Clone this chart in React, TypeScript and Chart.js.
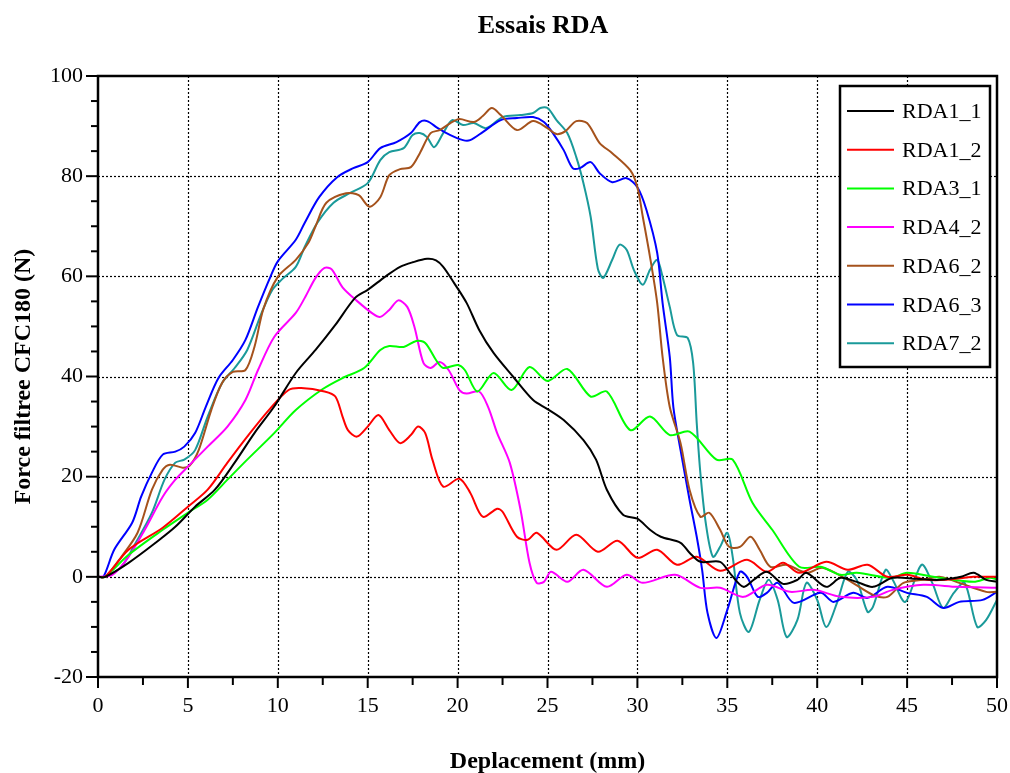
import React, { useEffect, useRef } from "react";
import { Chart, registerables } from "chart.js";

Chart.register(...registerables);

// ---------- DATA ----------
const seriesLabels = ["RDA1_1", "RDA1_2", "RDA3_1", "RDA4_2", "RDA6_2", "RDA6_3", "RDA7_2"];
const seriesColors = ["#000000", "#ff0000", "#00ff00", "#ff00ff", "#a5521c", "#0000ff", "#1a9a9a"];

const xTickValues = [0, 5, 10, 15, 20, 25, 30, 35, 40, 45, 50];
const yTickValues = [-20, 0, 20, 40, 60, 80, 100];

const rda11X = [0, 0.4, 1.7, 3.2, 4.3, 5.4, 6.5, 7.6, 8.7, 9.8, 11, 12.1, 13.2, 14.3, 15, 16, 16.8, 17.5, 18.3, 18.8, 19.2, 19.8, 20.5, 21.2, 22, 23.1, 24.2, 25, 25.9, 27, 27.7, 28.3, 29.2, 30, 30.7, 31.3, 32.4, 32.9, 33.5, 34.6, 35.2, 35.9, 36.5, 37.2, 38.1, 38.9, 39.4, 40.5, 41.3, 42.2, 43.1, 44.2, 45.5, 46.8, 48, 48.7, 49.4, 50];
const rda11Y = [0, 0, 2.8, 6.8, 10, 14, 17.4, 22.8, 28.7, 34, 40.7, 45.3, 50.3, 55.7, 57.3, 60, 61.9, 62.8, 63.5, 63.2, 61.9, 58.7, 54.7, 49.3, 44.7, 39.9, 35.3, 33.5, 31.3, 27.3, 23.4, 17.4, 12.4, 11.6, 9.4, 8, 6.8, 4.8, 3, 3, 0.5, -2, -0.5, 1, -1.4, -0.6, 0.8, -2, -0.2, -1, -2, -0.2, -0.4, -0.6, 0, 0.8, -0.6, -1];

const rda12X = [0, 0.4, 1.7, 3.6, 5, 6.1, 7.2, 8.3, 9.5, 10.6, 11.3, 12.6, 13.2, 13.6, 13.9, 14.4, 15, 15.6, 16.2, 16.8, 17.4, 17.8, 18.2, 18.6, 19.2, 20.1, 20.7, 21.4, 22.2, 22.5, 23.3, 23.9, 24.4, 25.5, 26.6, 27.8, 28.9, 30, 31.1, 32.2, 33.3, 34.6, 36.1, 37.2, 38.1, 39, 40.5, 41.7, 42.8, 43.9, 45, 46.1, 47.2, 48.7, 50];
const rda12Y = [0, 0, 5.4, 9.8, 14, 17.4, 22.8, 28, 33.3, 37.3, 37.7, 37, 36, 32, 29.3, 28, 30, 32.3, 29.3, 26.7, 28.3, 30, 28.7, 23.4, 18, 19.6, 16.8, 12, 13.6, 13, 8, 7.4, 8.8, 5.4, 8.4, 5, 7.2, 3.8, 5.4, 2.4, 4, 1.2, 3.4, 1, 2.8, 0.8, 3, 1.4, 2.4, 0, 0.4, -0.6, -0.6, 0, 0];

const rda31X = [0, 0.4, 1.7, 3.6, 5, 6.1, 7.2, 8.3, 9.8, 11, 12.5, 13.6, 14.8, 15.7, 16.2, 17, 17.7, 18.2, 18.8, 19.2, 20, 20.4, 21.1, 22, 23, 24, 25, 26.1, 27.4, 28.3, 29.6, 30.7, 31.8, 32.9, 34.4, 35.3, 36.4, 37.5, 39, 40.2, 41.3, 42.2, 44.1, 45, 46.8, 48.7, 49.6, 50];
const rda31Y = [0, 0, 4.4, 9.4, 12.8, 15.4, 19.4, 23.4, 28.7, 33.3, 37.5, 39.7, 41.7, 45.3, 46.1, 45.9, 47.1, 46.7, 43.3, 41.7, 42.3, 41.3, 37, 40.7, 37.3, 41.9, 39.1, 41.5, 36, 37, 29.3, 32, 28.3, 29, 23.4, 23.4, 14.8, 9.4, 2, 2, 0.4, 0.8, -0.2, 0.8, -0.2, -1, -0.2, -0.5];

const rda42X = [0, 0.8, 1.7, 2.6, 3.6, 4.3, 5, 6.1, 7.2, 8.2, 8.9, 9.8, 11, 11.5, 12.1, 12.6, 13, 13.6, 14.4, 15.3, 15.7, 16.2, 16.7, 17.2, 17.6, 18.1, 18.5, 19, 19.5, 20.1, 20.5, 21.2, 21.7, 22.2, 22.9, 23.5, 24, 24.4, 24.8, 25.2, 26.1, 27, 28.3, 29.4, 30.3, 32.1, 33.5, 34.6, 35.9, 37.2, 38.5, 39.8, 41.3, 43.1, 44.2, 45.9, 47.8, 50];
const rda42Y = [0, 0.4, 4, 9.4, 16, 19.4, 22, 26, 30, 35.3, 41.3, 47.9, 52.7, 55.7, 59.7, 61.7, 61.4, 57.8, 55.1, 52.5, 51.9, 53.3, 55.2, 53.9, 49.9, 42.7, 41.7, 42.9, 41.3, 37.3, 36.6, 37, 33.9, 28.7, 22.8, 13.4, 2.8, -1.2, -1, 1, -1, 1.4, -2, 0.4, -1.2, 0.4, -2.2, -2.2, -4, -1.6, -3, -2.6, -4, -4, -2.6, -1.6, -2, -2.2];

const rda62X = [0, 0.4, 1.3, 2.2, 3, 3.6, 4, 4.7, 5.1, 5.6, 6.3, 6.9, 7.5, 8.2, 8.7, 9.2, 10, 11, 11.7, 12.1, 12.7, 13.8, 14.5, 15.1, 15.7, 16.2, 16.8, 17.4, 17.9, 18.5, 19, 19.6, 20.1, 20.9, 21.4, 21.9, 22.4, 23.3, 24.2, 25, 25.5, 26, 26.6, 27.2, 27.9, 28.6, 29.6, 30, 30.3, 30.7, 31.1, 31.4, 31.8, 32.4, 32.9, 33.5, 34, 34.6, 35.1, 35.7, 36.3, 36.8, 37.4, 38.3, 39.4, 40.3, 41.7, 43.1, 43.9, 44.8, 45.9, 46.8, 47.9, 49.4, 50];
const rda62Y = [0, 0, 4, 8.8, 17.4, 21.4, 22.4, 21.8, 22.2, 25.3, 33.3, 38.7, 40.9, 41.3, 45.9, 53.5, 59.9, 63.3, 66.7, 70, 74.7, 76.6, 76.2, 73.9, 75.8, 80.2, 81.4, 81.8, 84.6, 88.6, 89.2, 90.6, 91.4, 90.8, 92, 93.6, 92.2, 89.2, 91, 89.6, 88.4, 89, 91, 90.6, 86.6, 84.6, 81.2, 77.8, 71.9, 63.9, 54.7, 43.9, 33.9, 26.7, 17.4, 12, 12.8, 9.4, 6, 6, 8, 5.4, 2, 2.4, 0.8, 1.8, -0.6, -3.6, -4, -1.2, -0.6, 0, -1.2, -3, -3];

const rda63X = [0, 0.3, 0.9, 1.9, 2.4, 3, 3.6, 4.3, 4.8, 5.4, 6, 6.7, 7.5, 8.2, 8.9, 9.6, 10, 11, 11.5, 12.3, 13.3, 14.2, 15, 15.7, 16.6, 17.4, 17.9, 18.3, 18.9, 19.6, 20.3, 20.7, 21.4, 22.4, 23.3, 24.2, 24.8, 25.3, 25.9, 26.4, 26.8, 27.4, 27.9, 28.6, 29.4, 30, 30.5, 31.1, 31.4, 31.8, 32, 32.4, 32.9, 33.3, 33.6, 33.9, 34.4, 35, 35.7, 36.1, 36.7, 37.2, 37.8, 38.7, 40.2, 40.9, 42, 42.8, 43.9, 45, 46.1, 47, 47.9, 49.2, 50];
const rda63Y = [0, 0, 5.4, 10.8, 16, 20.8, 24.4, 25, 26, 28.7, 34, 39.7, 43.3, 47.3, 53.9, 60, 63, 67.3, 70.7, 75.8, 79.8, 81.6, 82.8, 85.6, 86.8, 88.6, 90.8, 91, 89.6, 88.2, 87.2, 87.2, 88.8, 91.2, 91.6, 91.8, 90.8, 88.6, 85.2, 81.6, 81.6, 82.8, 80.6, 78.8, 79.6, 77.8, 73.3, 64.7, 54.7, 43.9, 33.9, 25.3, 15.4, 8, 1.4, -7.2, -12.2, -6.6, 1, 0, -4, -3.2, -1.2, -5.2, -3.2, -5, -3.2, -4.2, -2, -3.2, -4, -6.2, -5, -4.6, -3];

const rda72X = [0, 0.4, 1.3, 2.1, 3, 3.7, 4.3, 4.8, 5.4, 6.1, 6.9, 7.6, 8.3, 9.1, 9.7, 10.2, 11, 11.5, 12.2, 13.1, 14, 15, 15.7, 16.2, 17, 17.5, 17.9, 18.3, 18.7, 19.2, 19.7, 20.3, 20.9, 21.6, 22.5, 23.5, 24.2, 24.6, 25, 25.5, 26.1, 26.6, 27, 27.4, 27.8, 28.1, 28.6, 29, 29.4, 29.8, 30.3, 30.7, 31.1, 31.4, 31.8, 32.2, 32.8, 33.1, 33.3, 33.5, 33.8, 34.2, 34.6, 35, 35.3, 35.7, 36.2, 36.8, 37.3, 37.8, 38.3, 38.9, 39.4, 40, 40.5, 41.1, 41.7, 42.2, 42.8, 43.1, 43.8, 44.2, 44.9, 45.8, 46.4, 47, 47.6, 48.2, 48.9, 49.4, 50];
const rda72Y = [0, 0, 2, 6.8, 12.8, 19.4, 22.8, 23.4, 25.3, 32, 38.7, 41.7, 45.3, 52.7, 57.3, 59.3, 61.9, 65.9, 70.7, 74.7, 76.6, 78.6, 83.2, 84.8, 85.6, 88.2, 88.6, 87.8, 85.8, 88.6, 91.2, 90.2, 90.6, 89.6, 91.8, 92.2, 92.6, 93.6, 93.6, 91.2, 88.6, 83.8, 78.6, 71.9, 61.5, 59.7, 63.3, 66.3, 65.3, 61.3, 58.3, 61.3, 63.3, 59.9, 53.9, 48.3, 47.7, 42.7, 30.7, 20.8, 10.8, 4, 6, 8.8, 4, -7.2, -11, -4.6, -0.6, -4.6, -12, -8.6, -1.2, -4.6, -10, -5.2, 1, -0.6, -7, -6, 1.4, -0.6, -5, 2.4, -1.2, -6.2, -3.2, -1.2, -10, -8.6, -4.6];

const seriesX = [rda11X, rda12X, rda31X, rda42X, rda62X, rda63X, rda72X];
const seriesY = [rda11Y, rda12Y, rda31Y, rda42Y, rda62Y, rda63Y, rda72Y];

const FONT = '"Liberation Serif", "Times New Roman", serif';

const decorPlugin = {
  id: "decor",
  beforeDatasetsDraw(chart: any) {
    const { ctx, chartArea: a, scales } = chart;
    const x = scales.x, y = scales.y;
    ctx.save();
    ctx.strokeStyle = "#000";
    ctx.lineWidth = 1.2;
    ctx.setLineDash([2, 2]);
    for (const v of xTickValues) {
      if (v === 0 || v === 50) continue;
      const px = Math.round(x.getPixelForValue(v)) + 0.5;
      ctx.beginPath();
      ctx.moveTo(px, a.top);
      ctx.lineTo(px, a.bottom);
      ctx.stroke();
    }
    for (const v of yTickValues) {
      if (v === -20 || v === 100) continue;
      const py = Math.round(y.getPixelForValue(v)) + 0.5;
      ctx.beginPath();
      ctx.moveTo(a.left, py);
      ctx.lineTo(a.right, py);
      ctx.stroke();
    }
    ctx.restore();
  },
  afterDatasetsDraw(chart: any) {
    const { ctx, chartArea: a, scales } = chart;
    const x = scales.x, y = scales.y;
    ctx.save();
    ctx.strokeStyle = "#000";
    ctx.setLineDash([]);
    ctx.lineWidth = 2.5;
    ctx.strokeRect(a.left, a.top, a.right - a.left, a.bottom - a.top);
    ctx.lineWidth = 2;
    // y ticks (major every 20, minor every 5)
    for (let v = -20; v <= 100; v += 5) {
      const py = y.getPixelForValue(v);
      const len = v % 20 === 0 ? 12 : 7;
      ctx.beginPath();
      ctx.moveTo(a.left - len, py);
      ctx.lineTo(a.left, py);
      ctx.stroke();
    }
    // x ticks (major every 5, minor every 2.5)
    for (let v = 0; v <= 50; v += 2.5) {
      const px = x.getPixelForValue(v);
      const len = v % 5 === 0 ? 11 : 8;
      ctx.beginPath();
      ctx.moveTo(px, a.bottom);
      ctx.lineTo(px, a.bottom + len);
      ctx.stroke();
    }
    // legend
    const lx = 840, ly = 86, lw = 150, lh = 281;
    ctx.fillStyle = "#fff";
    ctx.fillRect(lx, ly, lw, lh);
    ctx.lineWidth = 2.5;
    ctx.strokeRect(lx, ly, lw, lh);
    ctx.font = "22px " + FONT;
    ctx.textAlign = "left";
    ctx.textBaseline = "alphabetic";
    chart.data.datasets.forEach((ds: any, i: number) => {
      const rowY = 111 + i * 38.7;
      ctx.strokeStyle = ds.borderColor;
      ctx.lineWidth = 2;
      ctx.beginPath();
      ctx.moveTo(847, rowY);
      ctx.lineTo(894, rowY);
      ctx.stroke();
      ctx.fillStyle = "#000";
      ctx.fillText(ds.label, 902, rowY + 7);
    });
    ctx.restore();
  },
  afterDraw(chart: any) {
    const { ctx, chartArea: a } = chart;
    ctx.save();
    ctx.fillStyle = "#000";
    ctx.textAlign = "center";
    ctx.textBaseline = "alphabetic";
    ctx.font = "bold 26px " + FONT;
    ctx.fillText("Essais RDA", 543, 33);
    ctx.font = "bold 24px " + FONT;
    ctx.fillText("Deplacement (mm)", (a.left + a.right) / 2, 768);
    ctx.translate(30, (a.top + a.bottom) / 2);
    ctx.rotate(-Math.PI / 2);
    ctx.fillText("Force filtree CFC180 (N)", 0, 0);
    ctx.restore();
  },
};

export default function App() {
  const ref = useRef<HTMLCanvasElement | null>(null);
  useEffect(() => {
    if (!ref.current) return;
    const datasets = seriesLabels.map((label, i) => ({
      label,
      data: seriesX[i].map((xv, j) => ({ x: xv, y: seriesY[i][j] })),
      borderColor: seriesColors[i],
      backgroundColor: seriesColors[i],
      borderWidth: 2,
      pointRadius: 0,
      showLine: true,
      tension: 0.3,
      fill: false,
    }));
    const chart = new Chart(ref.current, {
      type: "scatter",
      data: { datasets },
      options: {
        responsive: false,
        animation: false,
        layout: { padding: { left: 0, right: 13, top: 76, bottom: 0 } },
        plugins: { legend: { display: false }, title: { display: false }, tooltip: { enabled: false } },
        scales: {
          x: {
            type: "linear",
            min: 0,
            max: 50,
            afterBuildTicks: (s: any) => { s.ticks = xTickValues.map((v) => ({ value: v })); },
            ticks: { color: "#000", font: { family: FONT, size: 22 }, padding: 16, maxRotation: 0, autoSkip: false },
            grid: { display: false, drawTicks: false },
            border: { display: false },
            afterFit: (s: any) => { s.height = 96; s.paddingLeft = 0; s.paddingRight = 0; },
          },
          y: {
            type: "linear",
            min: -20,
            max: 100,
            afterBuildTicks: (s: any) => { s.ticks = yTickValues.map((v) => ({ value: v })); },
            ticks: { color: "#000", font: { family: FONT, size: 22 }, padding: 15, autoSkip: false },
            grid: { display: false, drawTicks: false },
            border: { display: false },
            afterFit: (s: any) => { s.width = 98; s.paddingTop = 0; s.paddingBottom = 0; },
          },
        },
      },
      plugins: [decorPlugin],
    } as any);
    return () => chart.destroy();
  }, []);
  return (
    <div style={{ position: "absolute", left: 0, top: 0, width: 1010, height: 773, background: "#fff" }}>
      <canvas ref={ref} width={1010} height={773} />
    </div>
  );
}
